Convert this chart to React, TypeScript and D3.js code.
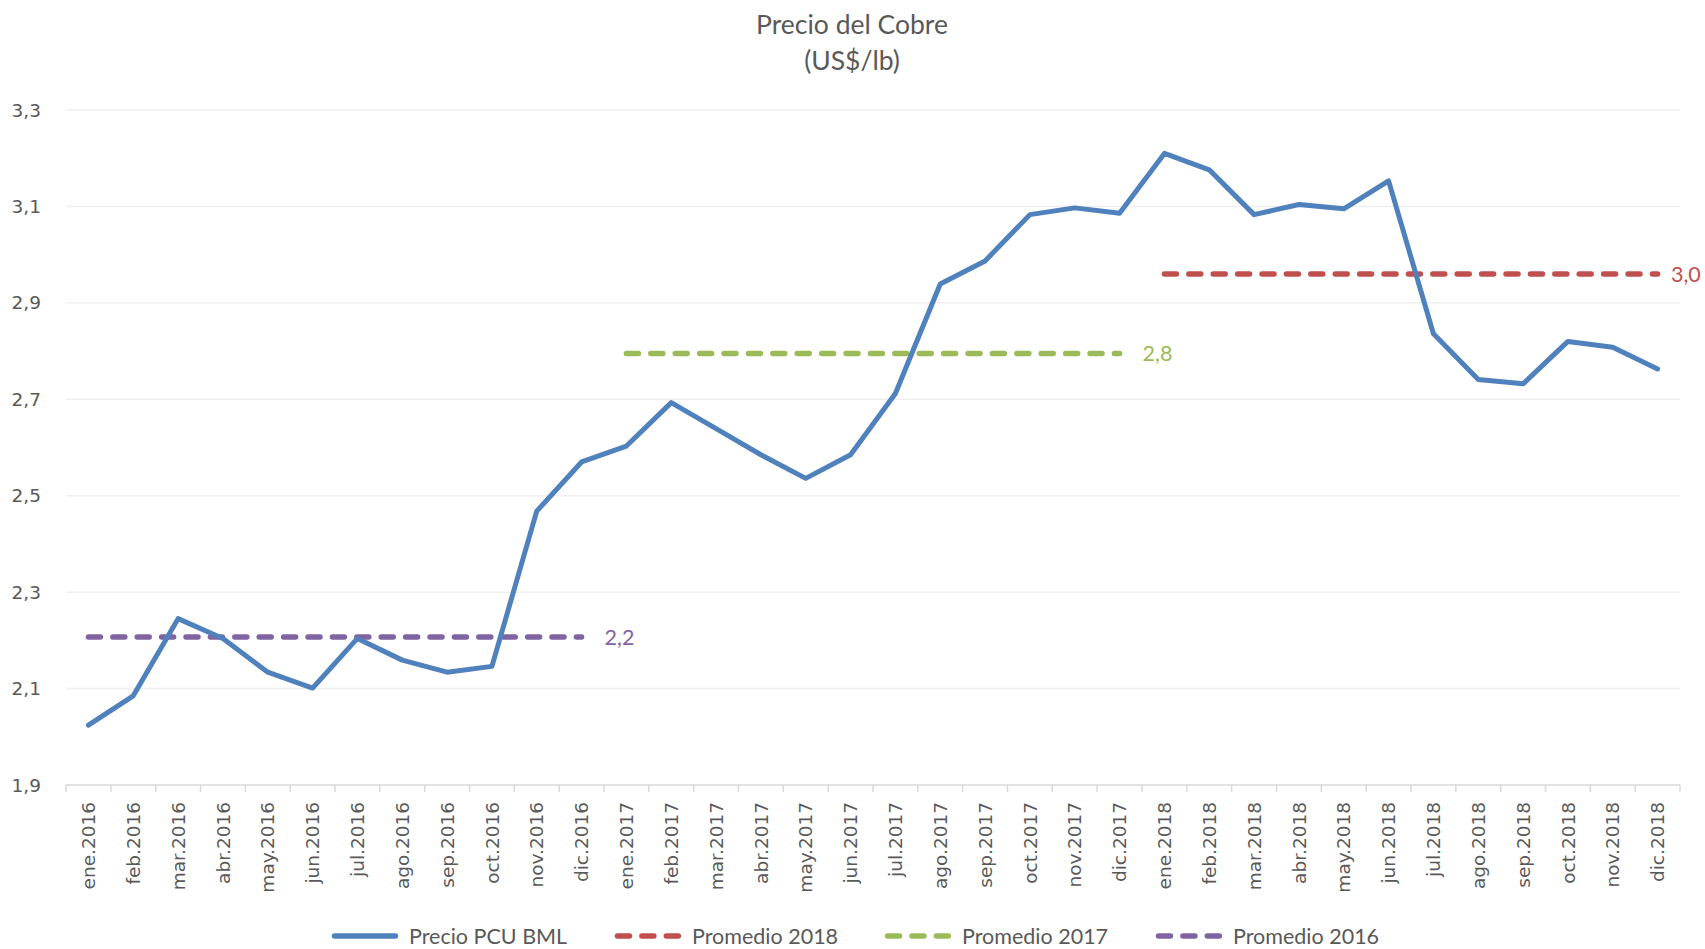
import React from "react";
import * as d3 from "d3";

const categories = [
  "ene.2016", "feb.2016", "mar.2016", "abr.2016", "may.2016", "jun.2016",
  "jul.2016", "ago.2016", "sep.2016", "oct.2016", "nov.2016", "dic.2016",
  "ene.2017", "feb.2017", "mar.2017", "abr.2017", "may.2017", "jun.2017",
  "jul.2017", "ago.2017", "sep.2017", "oct.2017", "nov.2017", "dic.2017",
  "ene.2018", "feb.2018", "mar.2018", "abr.2018", "may.2018", "jun.2018",
  "jul.2018", "ago.2018", "sep.2018", "oct.2018", "nov.2018", "dic.2018",
];

const precio = [
  2.024, 2.085, 2.245, 2.204, 2.134, 2.101, 2.204, 2.159, 2.134, 2.146, 2.468, 2.570,
  2.603, 2.693, 2.639, 2.585, 2.536, 2.585, 2.712, 2.939, 2.987, 3.083, 3.097, 3.086,
  3.210, 3.176, 3.083, 3.104, 3.095, 3.153, 2.836, 2.741, 2.732, 2.820, 2.808, 2.763,
];

// promedios anuales
const promedioYears = ["2016", "2017", "2018"];
const promedioValues = [2.207, 2.795, 2.96];
const promedioLabels = ["2,2", "2,8", "3,0"];
const promedioColors = ["#8064A2", "#9BBB59", "#C0504D"];

const yTicks = [1.9, 2.1, 2.3, 2.5, 2.7, 2.9, 3.1, 3.3];

const legendItems = [
  { name: "Precio PCU BML", color: "#4F81BD", dashed: false, x: 332 },
  { name: "Promedio 2018", color: "#C0504D", dashed: true, x: 615 },
  { name: "Promedio 2017", color: "#9BBB59", dashed: true, x: 885 },
  { name: "Promedio 2016", color: "#8064A2", dashed: true, x: 1156 },
];

const W = 1705, H = 949;
const textColor = "#595959";
const titleFont = "Lato, 'Open Sans', sans-serif";
const axisFont = "'DejaVu Sans', Verdana, sans-serif";

const App: React.FC = () => {
  const x = d3.scaleBand<string>().domain(categories).range([66, 1680]);
  const y = d3.scaleLinear().domain([1.9, 3.3]).range([785, 110]);
  const cx = (c: string) => (x(c) ?? 0) + x.bandwidth() / 2;

  const line = d3.line<number>()
    .x((_, i) => cx(categories[i]))
    .y(d => y(d));

  const boundaries = d3.range(categories.length + 1).map(i => 66 + i * x.bandwidth());

  return (
    <svg width={W} height={H} style={{ position: "absolute", left: 0, top: 0, background: "#fff" }}>
      <text x={852} y={24} textAnchor="middle" dominantBaseline="central" fontFamily={titleFont} fontSize={26.5} fill={textColor}>
        Precio del Cobre
      </text>
      <text x={852} y={60} textAnchor="middle" dominantBaseline="central" fontFamily={titleFont} fontSize={26.5} fill={textColor}>
        (US$/lb)
      </text>

      {yTicks.slice(1).map(t => (
        <line key={t} x1={66} x2={1680} y1={y(t)} y2={y(t)} stroke="#EFEFEF" strokeWidth={1.5} />
      ))}
      {yTicks.map(t => (
        <text key={"l" + t} x={41} y={y(t)} textAnchor="end" dominantBaseline="central" fontFamily={axisFont} fontSize={18.5} fill={textColor}>
          {t.toFixed(1).replace(".", ",")}
        </text>
      ))}

      <line x1={66} x2={1680} y1={y(1.9)} y2={y(1.9)} stroke="#D9D9D9" strokeWidth={1.5} />
      {boundaries.map((b, i) => (
        <line key={"t" + i} x1={b} x2={b} y1={y(1.9)} y2={y(1.9) + 7} stroke="#D9D9D9" strokeWidth={1.5} />
      ))}
      {categories.map(c => (
        <text key={c} transform={`translate(${cx(c)},802) rotate(-90)`} textAnchor="end" dy="0.36em"
          fontFamily={axisFont} fontSize={18.5} fill={textColor}>
          {c}
        </text>
      ))}

      {promedioYears.map((yr, i) => {
        const first = categories.findIndex(c => c.endsWith(yr));
        const last = categories.length - 1 - [...categories].reverse().findIndex(c => c.endsWith(yr));
        const x1 = cx(categories[first]);
        const x2 = cx(categories[last]);
        // la etiqueta del último promedio queda pegada al borde derecho
        const lx = Math.min(x2 + 23, W - 34);
        return (
          <g key={yr}>
            <line x1={x1} x2={x2} y1={y(promedioValues[i])} y2={y(promedioValues[i])}
              stroke={promedioColors[i]} strokeWidth={5.5} strokeDasharray="12 12.4" strokeLinecap="round" />
            <text x={lx} y={y(promedioValues[i])} dominantBaseline="central" fontFamily={titleFont}
              fontSize={21.5} fill={promedioColors[i]}>
              {promedioLabels[i]}
            </text>
          </g>
        );
      })}

      <path d={line(precio) ?? ""} fill="none" stroke="#4F81BD" strokeWidth={5} strokeLinejoin="round" strokeLinecap="round" />

      {legendItems.map(it => (
        <g key={it.name}>
          <line x1={it.x + 2.5} x2={it.x + 66 - 2.5} y1={936} y2={936} stroke={it.color} strokeWidth={5.5}
            strokeLinecap="round" strokeDasharray={it.dashed ? "12 12.4" : undefined} />
          <text x={it.x + 77} y={936} dominantBaseline="central" fontFamily={titleFont} fontSize={21.5} fill={textColor}>
            {it.name}
          </text>
        </g>
      ))}
    </svg>
  );
};

export default App;
